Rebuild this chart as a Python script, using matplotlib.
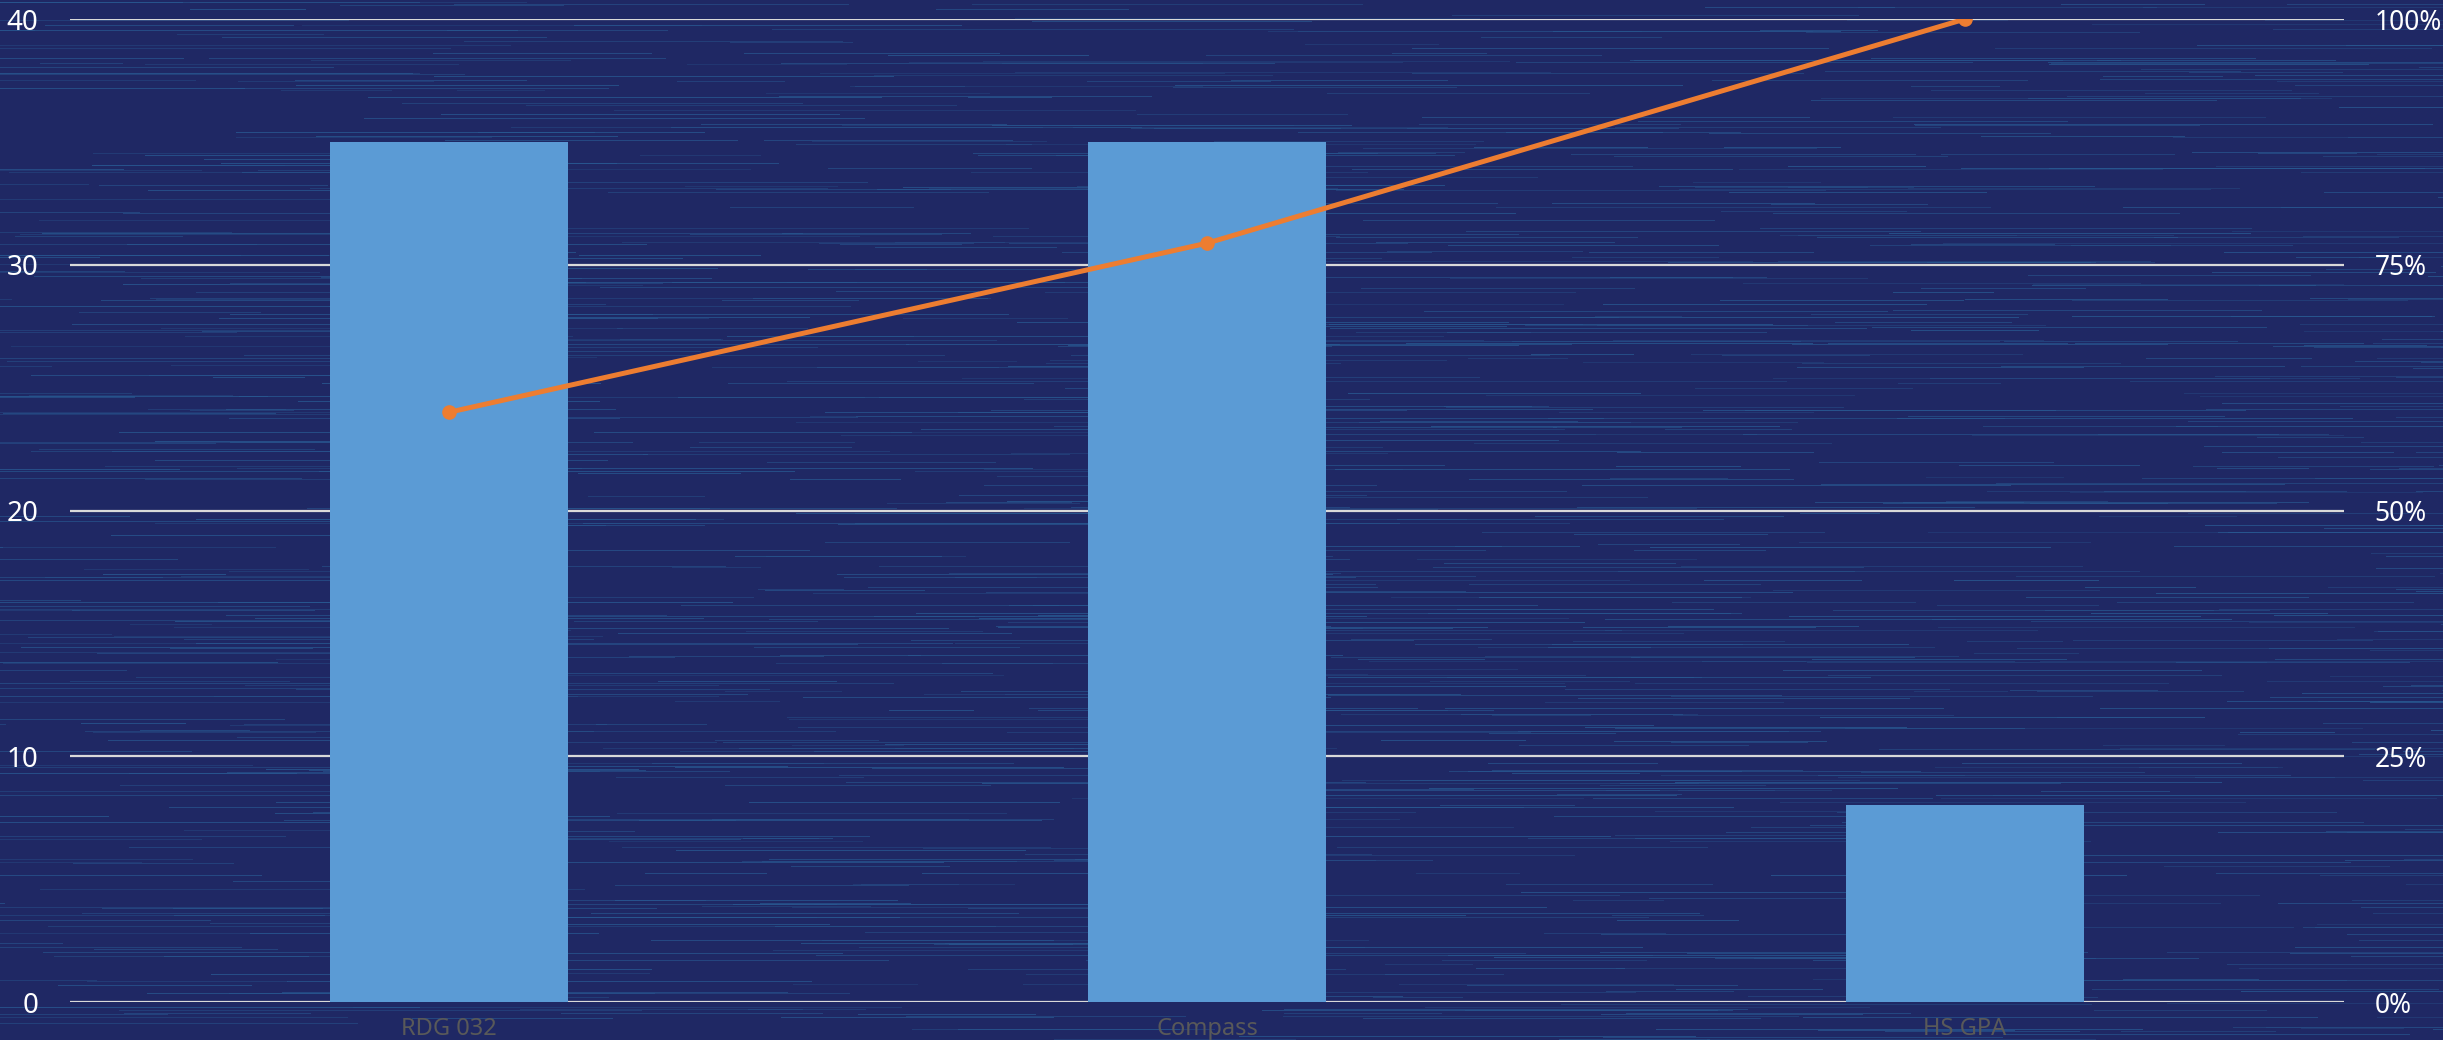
import numpy as np
import matplotlib
matplotlib.use("Agg")
import matplotlib.pyplot as plt
from matplotlib.ticker import FuncFormatter, MultipleLocator

# === Data ===
categories = ["RDG 032", "Compass", "HS GPA"]
counts = [35, 35, 8]
cumulative_pct = [0.60, 0.772, 1.00]

plt.rcParams["font.family"] = ["Noto Sans", "DejaVu Sans"]

W, H = 2443, 1040
fig = plt.figure(figsize=(W / 100, H / 100), dpi=100)

# === Navy background with horizontal streaks ===
base = np.array([31, 40, 100]) / 255
streak = np.array([40, 88, 145]) / 255
bg = np.empty((H, W, 3))
bg[:] = base
rng = np.random.default_rng(11)
for y in range(H):
    if rng.random() < 0.5:
        continue
    for _ in range(rng.integers(1, 5)):
        x0 = int(rng.integers(-200, W))
        length = int(rng.integers(80, 550))
        a = rng.uniform(0.3, 0.8)
        x1 = max(x0, 0)
        x2 = min(x0 + length, W)
        if x2 > x1:
            bg[y, x1:x2] = bg[y, x1:x2] * (1 - a) + streak * a
bg_ax = fig.add_axes([0, 0, 1, 1], zorder=0)
bg_ax.imshow(bg, aspect="auto", interpolation="bilinear")
bg_ax.axis("off")

# === Bars (count) ===
ax = fig.add_axes([0.0287, 0.0365, 0.9308, 0.9452], zorder=1)
ax.patch.set_alpha(0)
x = np.arange(len(categories))
ax.bar(x, counts, width=0.314, color="#5B9BD5", zorder=2)
ax.set_xlim(-0.5, len(categories) - 0.5)
ax.set_ylim(0, 40)
ax.yaxis.set_major_locator(MultipleLocator(10))
ax.grid(axis="y", color="#D9D9D9", linewidth=1.6, zorder=1)
ax.set_axisbelow(True)
for s in ax.spines.values():
    s.set_visible(False)
ax.set_xticks(x)
ax.set_xticklabels(categories, color="#595959", fontsize=17)
ax.tick_params(axis="x", length=0, pad=11)
ax.tick_params(axis="y", length=0, pad=23, colors="white", labelsize=20)

# === Cumulative percentage line ===
ax2 = ax.twinx()
ax2.set_ylim(0, 1)
ax2.yaxis.set_major_locator(MultipleLocator(0.25))
ax2.yaxis.set_major_formatter(FuncFormatter(lambda v, _: f"{v:.0%}"))
ax2.plot(x, cumulative_pct, color="#ED7D31", linewidth=3.6, marker="o",
         markersize=9.5, zorder=3)
for s in ax2.spines.values():
    s.set_visible(False)
ax2.tick_params(axis="y", length=0, pad=22, colors="white", labelsize=19)

fig.savefig("out.png", dpi=100)
